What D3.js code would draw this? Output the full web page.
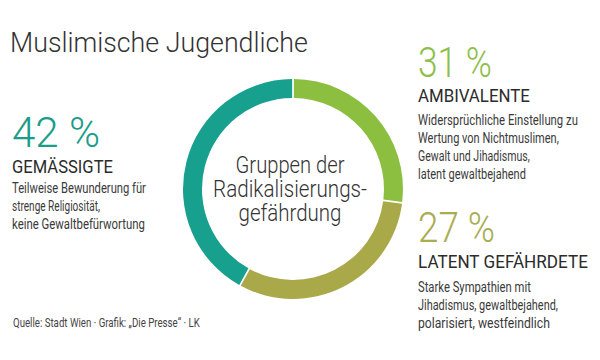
<!DOCTYPE html>
<html>
<head>
<meta charset="utf-8">
<script src="https://cdn.jsdelivr.net/npm/d3@7"></script>
<style>
  html, body { margin: 0; padding: 0; background: #fff; }
  svg text { font-family: Roboto, "Noto Sans", sans-serif; }
</style>
</head>
<body>
<svg id="chart" width="600" height="360"></svg>
<script>
// ---- data ----
const groups = ["Ambivalente", "Latent Gefährdete", "Gemässigte"];
const ringShares = [27, 31, 42];          // arc sizes as drawn in the ring (clockwise from top)
const labelPercents = [31, 27, 42];       // percentages printed next to the ring
const labelTitles = ["AMBIVALENTE", "LATENT GEFÄHRDETE", "GEMÄSSIGTE"];
const labelLines = [
  ["Widersprüchliche Einstellung zu", "Wertung von Nichtmuslimen,", "Gewalt und Jihadismus,", "latent gewaltbejahend"],
  ["Starke Sympathien mit", "Jihadismus, gewaltbejahend,", "polarisiert, westfeindlich"],
  ["Teilweise Bewunderung für", "strenge Religiosität,", "keine Gewaltbefürwortung"]
];
const centerLines = ["Gruppen der", "Radikalisierungs-", "gefährdung"];
const title = "Muslimische Jugendliche";
const source = "Quelle: Stadt Wien · Grafik: „Die Presse“ · LK";

// ---- drawing ----
const svg = d3.select("#chart");
const color = d3.scaleOrdinal().domain(groups).range(["#8cbf40", "#aaa94a", "#17a08d"]);
const textColor = d3.scaleOrdinal().domain(groups).range(["#8dc04b", "#a9ad52", "#1c9d8a"]);

// text condensed horizontally to the width it has in the reference
function txt(s, x, y, size, fill, width, anchor, weight) {
  const g = svg.append("g");
  const t = g.append("text")
    .attr("x", 0).attr("y", 0)
    .attr("font-size", size)
    .attr("font-weight", weight || 300)
    .attr("fill", fill)
    .attr("text-anchor", anchor || "start")
    .text(s);
  let sx = 1;
  if (width) {
    const w = t.node().getComputedTextLength();
    if (w > 0) sx = width / w;
  }
  g.attr("transform", `translate(${x},${y}) scale(${sx},1)`);
  return t;
}

// title
txt(title, 10, 52, 28, "#333", 298);

// ring
const cx = 293, cy = 189;
const pie = d3.pie().sort(null).value(d => d.v);
const arc = d3.arc().innerRadius(91).outerRadius(110).padAngle(0.012);
const g = svg.append("g").attr("transform", `translate(${cx},${cy})`);
g.selectAll("path")
  .data(pie(groups.map((k, i) => ({ k, v: ringShares[i] }))))
  .join("path")
  .attr("d", arc)
  .attr("fill", d => color(d.data.k));

// center text
const centerY = [173, 197, 221];
const centerW = [109, 154, 103];
centerLines.forEach((s, i) => txt(s, 290, centerY[i], 24, "#333", centerW[i], "middle"));

// label blocks
const blocks = [
  { x: 418, pctY: 77, titleY: 102, lineY0: 125, pctW: 74, titleW: 112,
    lineW: [160, 141, 112, 108] },
  { x: 418, pctY: 242, titleY: 268, lineY0: 292, pctW: 77, titleW: 170,
    lineW: [113, 140, 132] },
  { x: 12, pctY: 147, titleY: 173, lineY0: 193, pctW: 88, titleW: 101,
    lineW: [134, 88, 133] }
];
blocks.forEach((b, i) => {
  const k = groups[i];
  txt(labelPercents[i] + " %", b.x, b.pctY, 43, textColor(k), b.pctW, "start", 300);
  txt(labelTitles[i], b.x, b.titleY, 19, "#2b2b2b", b.titleW, "start", 400);
  labelLines[i].forEach((s, j) =>
    txt(s, b.x, b.lineY0 + j * 18, 14.5, "#3a3a3a", b.lineW[j], "start", 400));
});

// source
txt(source, 13, 327, 12, "#444", 187, "start", 400);
</script>
</body>
</html>
